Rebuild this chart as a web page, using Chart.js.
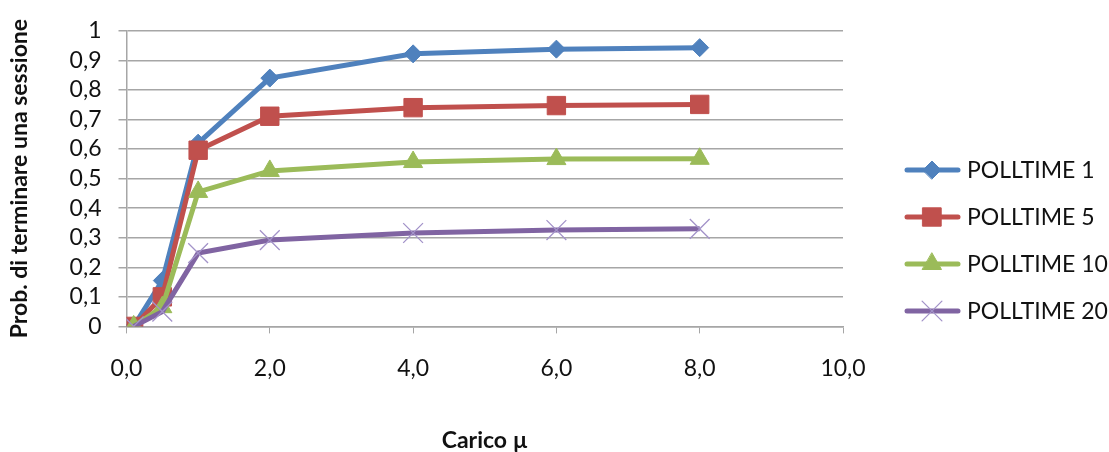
<!DOCTYPE html>
<html>
<head>
<meta charset="utf-8">
<script src="https://cdn.jsdelivr.net/npm/chart.js@4"></script>
<style>
  html, body { margin: 0; padding: 0; background: #fff; }
  #wrap { width: 1109px; height: 452px; }
</style>
</head>
<body>
<div id="wrap"><canvas id="myChart" width="1109" height="452"></canvas></div>
<script>
'use strict';

// carico mu (x) and probability values
var caricoX = [0.1, 0.5, 1, 2, 4, 6, 8];
var poll1 = [0, 0.155, 0.62, 0.84, 0.922, 0.938, 0.943];
var poll5 = [0, 0.10, 0.596, 0.711, 0.74, 0.747, 0.751];
var poll10 = [0, 0.065, 0.455, 0.526, 0.556, 0.566, 0.567];
var poll20 = [0, 0.05, 0.248, 0.292, 0.316, 0.326, 0.33];
var seriesNames = ['POLLTIME 1', 'POLLTIME 5', 'POLLTIME 10', 'POLLTIME 20'];

var fontName = 'Lato, "Open Sans", sans-serif';

function toPoints(xs, ys) {
    var pts = [];
    for (var i = 0; i < xs.length; i++) {
        pts.push({ x: xs[i], y: ys[i] });
    }
    return pts;
}

function comma(v, digits) {
    return v.toFixed(digits).replace('.', ',');
}

// excel-like legend: short line with the marker on it
var sideLegend = {
    id: 'sideLegend',
    afterDraw: function (chart) {
        var ctx = chart.ctx;
        var sets = chart.data.datasets;
        var top = 170;
        var gap = 47;
        ctx.save();
        for (var i = 0; i < sets.length; i++) {
            var ds = sets[i];
            var y = top + i * gap;
            ctx.strokeStyle = ds.borderColor;
            ctx.lineWidth = 5;
            ctx.lineCap = 'round';
            ctx.beginPath();
            ctx.moveTo(907, y);
            ctx.lineTo(958, y);
            ctx.stroke();
            ctx.fillStyle = ds.pointBackgroundColor;
            ctx.strokeStyle = ds.pointBorderColor;
            ctx.lineWidth = ds.pointBorderWidth;
            Chart.helpers.drawPoint(ctx, {
                pointStyle: ds.pointStyle,
                radius: ds.pointRadius,
                rotation: 0,
                borderWidth: ds.pointBorderWidth
            }, 932, y);
            ctx.fillStyle = '#111';
            ctx.font = '23px ' + fontName;
            ctx.textBaseline = 'middle';
            ctx.textAlign = 'left';
            ctx.fillText(seriesNames[i], 967, y + 1);
        }
        ctx.restore();
    }
};

var ctx = document.getElementById('myChart').getContext('2d');
var chart = new Chart(ctx, {
    type: 'scatter',
    data: {
        datasets: [{
            label: seriesNames[0],
            data: toPoints(caricoX, poll1),
            showLine: true,
            borderColor: '#4F81BD',
            borderWidth: 5,
            pointStyle: 'rectRot',
            pointRadius: 9,
            pointBackgroundColor: '#4F81BD',
            pointBorderColor: '#4F81BD',
            pointBorderWidth: 1,
            order: 4
        },
        {
            label: seriesNames[1],
            data: toPoints(caricoX, poll5),
            showLine: true,
            borderColor: '#C0504D',
            borderWidth: 5,
            pointStyle: 'rect',
            pointRadius: 13,
            pointBackgroundColor: '#C0504D',
            pointBorderColor: '#C0504D',
            pointBorderWidth: 1,
            order: 3
        },
        {
            label: seriesNames[2],
            data: toPoints(caricoX, poll10),
            showLine: true,
            borderColor: '#9BBB59',
            borderWidth: 5,
            pointStyle: 'triangle',
            pointRadius: 11,
            pointBackgroundColor: '#9BBB59',
            pointBorderColor: '#9BBB59',
            pointBorderWidth: 1,
            order: 2
        },
        {
            label: seriesNames[3],
            data: toPoints(caricoX, poll20),
            showLine: true,
            borderColor: '#8064A2',
            borderWidth: 5,
            pointStyle: 'crossRot',
            pointRadius: 14,
            pointBackgroundColor: '#A393C9',
            pointBorderColor: '#A393C9',
            pointBorderWidth: 1.3,
            order: 1
        }]
    },
    options: {
        responsive: false,
        animation: false,
        layout: { padding: { left: 6, right: 266, top: 11, bottom: 0 } },
        plugins: {
            legend: { display: false },
            tooltip: { enabled: false }
        },
        scales: {
            x: {
                type: 'linear',
                min: 0,
                max: 10,
                ticks: {
                    stepSize: 2,
                    padding: 21,
                    color: '#111',
                    font: { family: fontName, size: 23 },
                    callback: function (v) { return comma(v, 1); }
                },
                grid: { drawOnChartArea: false, color: '#a6a6a6', tickLength: 7 },
                border: { color: '#a6a6a6', width: 1.5 },
                title: {
                    display: true,
                    text: 'Carico µ',
                    color: '#111',
                    font: { family: fontName, size: 23, weight: 'bold', lineHeight: 1 },
                    padding: { top: 26, bottom: 0 }
                }
            },
            y: {
                min: 0,
                max: 1,
                ticks: {
                    stepSize: 0.1,
                    autoSkip: false,
                    padding: 17,
                    color: '#111',
                    font: { family: fontName, size: 23 },
                    callback: function (v) {
                        var r = Math.round(v * 10) / 10;
                        if (r === 0 || r === 1) return String(r);
                        return comma(r, 1);
                    }
                },
                grid: { color: '#a6a6a6', lineWidth: 1.5, tickLength: 8 },
                border: { color: '#a6a6a6', width: 1.5 },
                title: {
                    display: true,
                    text: 'Prob. di terminare una sessione',
                    color: '#111',
                    font: { family: fontName, size: 23, weight: 'bold' },
                    padding: { top: 0, bottom: 19 }
                }
            }
        }
    },
    plugins: [sideLegend]
});
</script>
</body>
</html>
